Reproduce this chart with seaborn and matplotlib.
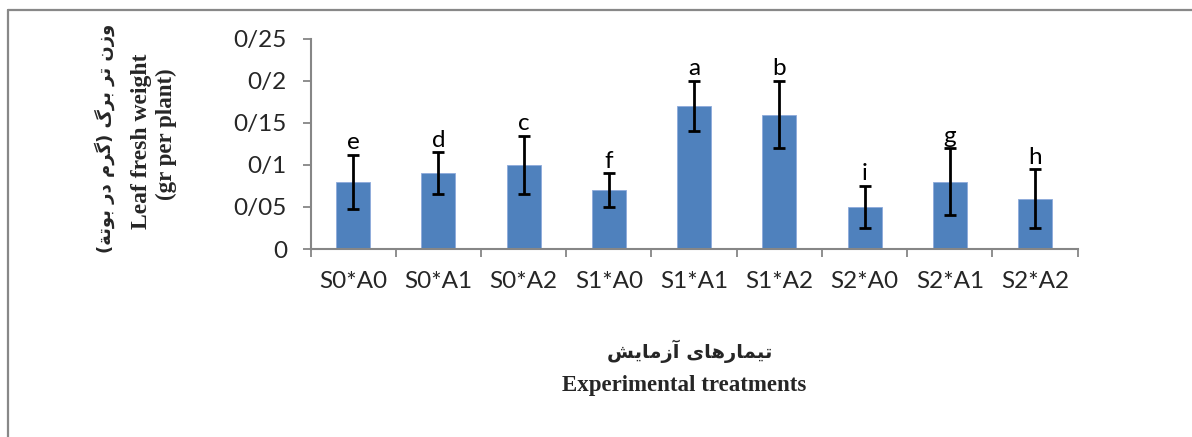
import numpy as np
import pandas as pd
import seaborn as sns
import matplotlib.pyplot as plt
from matplotlib.lines import Line2D

treatments = ["S0*A0", "S0*A1", "S0*A2", "S1*A0", "S1*A1", "S1*A2", "S2*A0", "S2*A1", "S2*A2"]
weight = [0.08, 0.09, 0.10, 0.07, 0.17, 0.16, 0.05, 0.08, 0.06]
err = [0.032, 0.025, 0.035, 0.02, 0.03, 0.04, 0.025, 0.04, 0.035]
letters = ["e", "d", "c", "f", "a", "b", "i", "g", "h"]
yticks = [0, 0.05, 0.1, 0.15, 0.2, 0.25]
ytick_labels = ["0", "0/05", "0/1", "0/15", "0/2", "0/25"]

ylabel_fa = "وزن تر برگ (گرم در بوتة)"
xlabel_fa = "تیمارهای آزمایش"

# contextual forms (isolated, final, initial, medial); matplotlib does no arabic shaping
FORMS = {
    "ا": ("\uFE8D", "\uFE8E", None, None),
    "آ": ("\uFE81", "\uFE82", None, None),
    "د": ("\uFEA9", "\uFEAA", None, None),
    "ر": ("\uFEAD", "\uFEAE", None, None),
    "ز": ("\uFEAF", "\uFEB0", None, None),
    "و": ("\uFEED", "\uFEEE", None, None),
    "ة": ("\uFE93", "\uFE94", None, None),
    "ب": ("\uFE8F", "\uFE90", "\uFE91", "\uFE92"),
    "ت": ("\uFE95", "\uFE96", "\uFE97", "\uFE98"),
    "ش": ("\uFEB5", "\uFEB6", "\uFEB7", "\uFEB8"),
    "م": ("\uFEE1", "\uFEE2", "\uFEE3", "\uFEE4"),
    "ن": ("\uFEE5", "\uFEE6", "\uFEE7", "\uFEE8"),
    "ه": ("\uFEE9", "\uFEEA", "\uFEEB", "\uFEEC"),
    "ی": ("\uFBFC", "\uFBFD", "\uFBFE", "\uFBFF"),
    "گ": ("\uFB92", "\uFB93", "\uFB94", "\uFB95"),
}


def shape_fa(s):
    out = []
    for i, ch in enumerate(s):
        if ch not in FORMS:
            out.append(ch)
            continue
        prev = s[i - 1] if i > 0 else None
        nxt = s[i + 1] if i + 1 < len(s) else None
        jp = prev in FORMS and FORMS[prev][2] is not None
        jn = FORMS[ch][2] is not None and nxt in FORMS
        iso, fin, ini, med = FORMS[ch]
        if jp and jn:
            out.append(med)
        elif jp:
            out.append(fin)
        elif jn:
            out.append(ini)
        else:
            out.append(iso)
    vis = "".join(reversed(out))
    return vis.translate(str.maketrans("()", ")("))


sns.set_theme(style="white")
plt.rcParams["font.family"] = ["Lato", "DejaVu Sans"]

df = pd.DataFrame({"treatment": treatments, "weight": weight, "err": err})

fig = plt.figure(figsize=(11.92, 4.37), dpi=100)
ax = fig.add_axes([0.2605, 0.4302, 0.6436, 0.4806])

sns.barplot(data=df, x="treatment", y="weight", color="#4F81BD", saturation=1,
            width=0.4, errorbar=None, edgecolor="#8EAADB", linewidth=0.6, ax=ax)
ax.errorbar(np.arange(len(weight)), df["weight"], yerr=df["err"], fmt="none",
            ecolor="black", elinewidth=2, capsize=4.5, capthick=2)

for i, (v, e, lt) in enumerate(zip(weight, err, letters)):
    ax.annotate(lt, (i, v + e), xytext=(0, 4), textcoords="offset points",
                ha="center", va="baseline", fontsize=17.5, color="black")

ax.set_xlim(-0.5, len(treatments) - 0.5)
ax.set_ylim(0, 0.25)
ax.set_yticks(yticks)
ax.set_yticklabels(ytick_labels)
ax.set_xticks(np.arange(-0.5, len(treatments), 1))
ax.set_xticklabels([])
ax.set_xticks(np.arange(len(treatments)), minor=True)
ax.set_xticklabels(treatments, minor=True)
ax.tick_params(axis="x", which="major", length=6, width=1.3, color="#868686", direction="out", bottom=True)
ax.tick_params(axis="x", which="minor", length=0, pad=16, labelsize=17.5)
ax.tick_params(axis="y", length=6, width=1.3, color="#868686", direction="out", left=True,
               pad=11, labelsize=17.5)
ax.set_xlabel("")
ax.set_ylabel("")
for side in ["top", "right"]:
    ax.spines[side].set_visible(False)
for side in ["left", "bottom"]:
    ax.spines[side].set_color("#868686")
    ax.spines[side].set_linewidth(1.5)

serif = ["Liberation Serif", "DejaVu Sans"]
fa_font = ["DejaVu Sans"]
fig.text(105 / 1192, 1 - 138 / 437, shape_fa(ylabel_fa), rotation=90, ha="center", va="center",
         fontsize=13, fontweight="bold", family=fa_font)
fig.text(142 / 1192, 1 - 141 / 437, "Leaf fresh weight", rotation=90, ha="center", va="center",
         fontsize=17, fontweight="bold", family=serif)
fig.text(166 / 1192, 1 - 134 / 437, "(gr per plant)", rotation=90, ha="center", va="center",
         fontsize=16.5, fontweight="bold", family=serif)
fig.text(690 / 1192, 1 - 351 / 437, shape_fa(xlabel_fa), ha="center", va="center",
         fontsize=14, fontweight="bold", family=fa_font)
fig.text(684 / 1192, 1 - 386 / 437, "Experimental treatments", ha="center", va="center",
         fontsize=16.5, fontweight="bold", family=serif)

# chart area border (right and bottom edges fall outside the picture)
fig.add_artist(Line2D([8 / 1192, 1.0], [1 - 9.5 / 437, 1 - 9.5 / 437], transform=fig.transFigure,
                      color="#888888", linewidth=1.6))
fig.add_artist(Line2D([8 / 1192, 8 / 1192], [0, 1 - 9.5 / 437], transform=fig.transFigure,
                      color="#888888", linewidth=1.6))

fig.savefig("out.png", dpi=100)
